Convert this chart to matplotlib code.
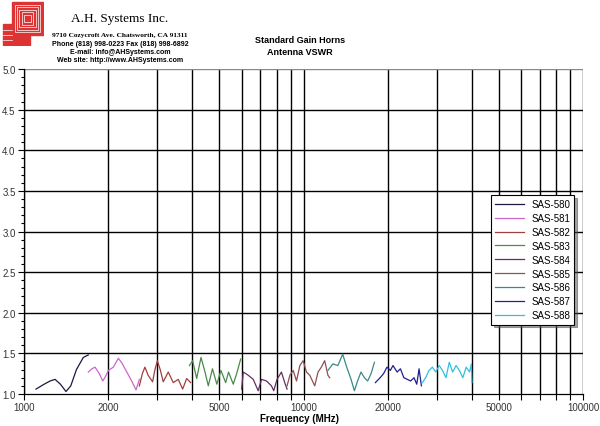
import numpy as np
import matplotlib.pyplot as plt
from matplotlib.patches import Rectangle
from matplotlib.ticker import FixedLocator, NullFormatter, MultipleLocator, FormatStrFormatter

# ---- data (MHz, VSWR) ----
f580 = [1104, 1180, 1240, 1291, 1350, 1413, 1470, 1540, 1630, 1698]
v580 = [1.06, 1.12, 1.16, 1.18, 1.12, 1.03, 1.10, 1.30, 1.45, 1.48]

f581 = [1698, 1750, 1795, 1860, 1912, 1960, 2004, 2087, 2175, 2240, 2298, 2427, 2516, 2586]
v581 = [1.27, 1.31, 1.33, 1.25, 1.16, 1.22, 1.29, 1.33, 1.44, 1.38, 1.31, 1.16, 1.05, 1.18]

f582 = [2586, 2650, 2707, 2780, 2883, 2940, 2999, 3070, 3148, 3280, 3418, 3563, 3693, 3817, 3945]
v582 = [1.10, 1.25, 1.33, 1.23, 1.15, 1.30, 1.41, 1.30, 1.15, 1.27, 1.14, 1.18, 1.06, 1.19, 1.14]

f583 = [3905, 4010, 4145, 4296, 4440, 4562, 4721, 4894, 5061, 5263, 5390, 5603, 5762, 5956]
v583 = [1.35, 1.41, 1.19, 1.45, 1.27, 1.10, 1.31, 1.12, 1.29, 1.14, 1.27, 1.12, 1.25, 1.43]

f584 = [6003, 6085, 6340, 6605, 6880, 7072, 7368, 7676, 7820, 8036, 8330, 8560, 8727]
v584 = [1.06, 1.27, 1.23, 1.18, 1.04, 1.18, 1.16, 1.10, 1.04, 1.18, 1.27, 1.14, 1.06]

f585 = [8727, 8931, 9178, 9432, 9695, 9961, 10240, 10523, 10960, 11263, 11573, 11895, 12220, 12400]
v585 = [1.10, 1.23, 1.29, 1.16, 1.35, 1.41, 1.27, 1.23, 1.10, 1.27, 1.33, 1.41, 1.23, 1.20]

f586 = [12220, 12730, 13260, 13800, 14200, 14780, 15190, 15600, 16040, 16500, 16950, 17430, 17920]
v586 = [1.29, 1.37, 1.35, 1.49, 1.35, 1.18, 1.04, 1.16, 1.27, 1.20, 1.16, 1.25, 1.39]

f587 = [18060, 18780, 19320, 19870, 20430, 20880, 21600, 22200, 22830, 23490, 24150, 24830,
        25390, 25880, 26380]
v587 = [1.14, 1.20, 1.25, 1.33, 1.29, 1.35, 1.27, 1.31, 1.20, 1.18, 1.16, 1.20,
        1.12, 1.31, 1.10]

f588 = [26600, 27320, 28090, 28880, 29700, 30540, 31400, 32290, 33190, 34130, 35090, 36080,
        37100, 38150, 39220, 39800, 40000]
v588 = [1.14, 1.20, 1.29, 1.33, 1.27, 1.35, 1.29, 1.20, 1.39, 1.27, 1.35, 1.29,
        1.20, 1.33, 1.27, 1.37, 1.14]

names = ["SAS-580", "SAS-581", "SAS-582", "SAS-583", "SAS-584",
         "SAS-585", "SAS-586", "SAS-587", "SAS-588"]
freqs = [f580, f581, f582, f583, f584, f585, f586, f587, f588]
vswrs = [v580, v581, v582, v583, v584, v585, v586, v587, v588]
colors = ["#1a1a40", "#cc66cc", "#a04040", "#4a8a4a", "#603060",
          "#905050", "#3a8a8a", "#202090", "#30c0e0"]

grid_x = [1000, 2000, 3000, 4000, 5000, 6000, 7000, 8000, 9000,
          10000, 20000, 30000, 40000, 50000, 60000, 70000, 80000, 90000, 100000]
label_x = [1000, 2000, 5000, 10000, 20000, 50000, 100000]

fig = plt.figure(figsize=(6, 4.27), dpi=100)
ax = fig.add_axes([0.040, 0.075, 0.932, 0.761])

for f, v, c, n in zip(freqs, vswrs, colors, names):
    ax.plot(f, v, color=c, lw=0.9, label=n)

ax.set_xscale("log")
ax.set_xlim(1000, 100000)
ax.set_ylim(1.0, 5.0)

for g in grid_x:
    ax.axvline(g, color="black", lw=1.0, zorder=0)
for yv in np.arange(1.5, 5.0, 0.5):
    ax.axhline(yv, color="black", lw=1.0, zorder=0)
ax.axhline(5.0, color="#888888", lw=1.0, zorder=0)

ax.xaxis.set_major_locator(FixedLocator(label_x))
ax.xaxis.set_major_formatter(FormatStrFormatter("%d"))
ax.xaxis.set_minor_locator(FixedLocator(grid_x))
ax.xaxis.set_minor_formatter(NullFormatter())
ax.yaxis.set_major_locator(MultipleLocator(0.5))
ax.yaxis.set_minor_locator(MultipleLocator(0.1))
ax.yaxis.set_major_formatter(FormatStrFormatter("%.1f"))
ax.tick_params(axis="both", which="both", direction="out", colors="black",
               labelsize=7, width=0.8)
ax.tick_params(axis="x", which="major", length=4, pad=2)
ax.tick_params(axis="x", which="minor", length=4)
ax.tick_params(axis="y", which="major", length=4, pad=2)
ax.tick_params(axis="y", which="minor", length=2)
for lab in ax.get_xticklabels() + ax.get_yticklabels():
    lab.set_family("Liberation Sans")
    lab.set_color("#333333")

for s in ["top", "right"]:
    ax.spines[s].set_visible(False)
ax.spines["left"].set_linewidth(0.9)
ax.spines["bottom"].set_linewidth(0.9)

fig.text(0.5, 0.018, "Frequency (MHz)", fontsize=7, fontweight="bold",
         family="Liberation Sans", ha="center", va="center")

leg = ax.legend(loc="upper left", bbox_to_anchor=(0.826, 0.628),
                frameon=True, fancybox=False, shadow=True, handlelength=3.0,
                labelspacing=0.4, borderpad=0.45, handletextpad=0.7,
                prop={"family": "Liberation Sans", "size": 7})
leg.get_frame().set_edgecolor("black")
leg.get_frame().set_linewidth(0.8)

# header text
fig.text(0.20, 0.955, "A.H. Systems Inc.", fontsize=9.5, family="Liberation Serif",
         ha="center", va="center")
fig.text(0.20, 0.918, "9710 Cozycroft Ave. Chatsworth, CA 91311", fontsize=5.3,
         family="Liberation Serif", fontweight="bold", ha="center", va="center")
fig.text(0.20, 0.896, "Phone (818) 998-0223 Fax (818) 998-6892", fontsize=5,
         family="Liberation Sans", fontweight="bold", ha="center", va="center")
fig.text(0.20, 0.877, "E-mail: info@AHSystems.com", fontsize=5,
         family="Liberation Sans", fontweight="bold", ha="center", va="center")
fig.text(0.20, 0.858, "Web site: http://www.AHSystems.com", fontsize=5,
         family="Liberation Sans", fontweight="bold", ha="center", va="center")
fig.text(0.50, 0.905, "Standard Gain Horns", fontsize=6.5, family="Liberation Sans",
         fontweight="bold", ha="center", va="center")
fig.text(0.50, 0.877, "Antenna VSWR", fontsize=6.5, family="Liberation Sans",
         fontweight="bold", ha="center", va="center")

# logo
lg = fig.add_axes([0.003, 0.89, 0.07, 0.105])
lg.set_xlim(0, 10)
lg.set_ylim(0, 10)
lg.axis("off")
lg.add_patch(Rectangle((0.3, 0.3), 6.5, 4.5, color="#dd3333"))
lg.add_patch(Rectangle((2.5, 2.5), 7.2, 7.2, color="#dd3333"))
for k in range(1, 6):
    d = k * 0.55
    lg.add_patch(Rectangle((2.5 + d, 2.5 + d), 7.2 - 2 * d, 7.2 - 2 * d,
                           fill=False, ec="white", lw=0.5))
for k in range(1, 4):
    lg.plot([0.3, 2.5], [0.3 + k * 1.1, 0.3 + k * 1.1], color="white", lw=0.5)

fig.savefig("out.png", dpi=100)
